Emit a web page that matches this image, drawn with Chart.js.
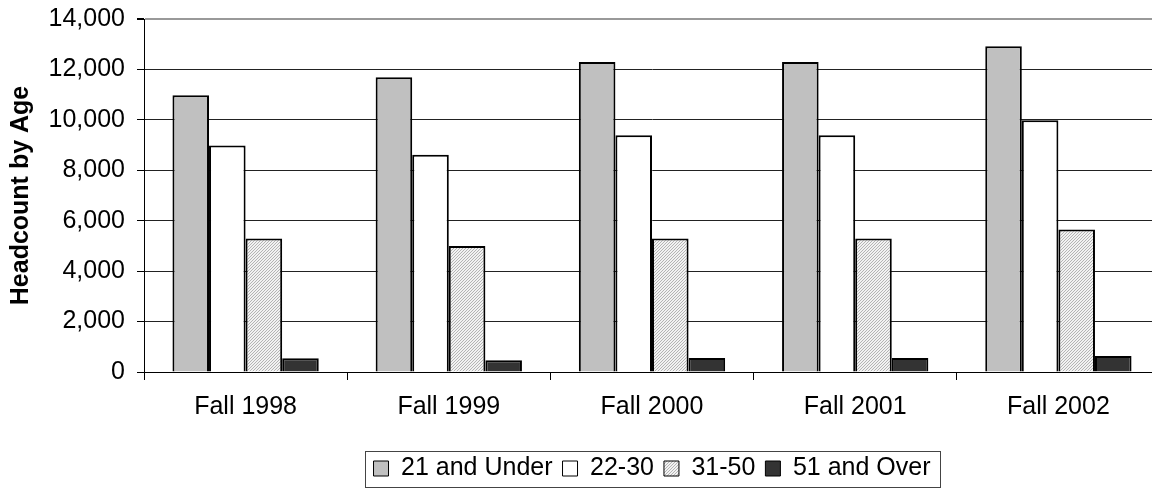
<!DOCTYPE html>
<html><head><meta charset="utf-8">
<script src="https://cdn.jsdelivr.net/npm/chart.js@4.4.0/dist/chart.umd.min.js"></script>
<style>html,body{margin:0;padding:0;background:#fff;overflow:hidden}canvas{display:block}</style>
</head><body>
<canvas id="c" width="1162" height="491"></canvas>
<script>
const categories = ['Fall 1998', 'Fall 1999', 'Fall 2000', 'Fall 2001', 'Fall 2002'];
const seriesNames = ['21 and Under', '22-30', '31-50', '51 and Over'];
const age21AndUnder = [10980, 11690, 12290, 12290, 12920];
const age22to30 = [8980, 8620, 9390, 9390, 9980];
const age31to50 = [5290, 5000, 5290, 5290, 5650];
const age51AndOver = [550, 465, 560, 560, 636];
const yMin = 0, yMax = 14000, yStep = 2000;

function hatch() {
  const t = document.createElement('canvas');
  t.width = 3; t.height = 3;
  const g = t.getContext('2d');
  g.fillStyle = '#f2f2f2'; g.fillRect(0, 0, 3, 3);
  g.fillStyle = '#b4b4b4';
  for (let i = 0; i < 3; i++) g.fillRect(2 - i, i, 1, 1);
  return g.createPattern(t, 'repeat');
}
const hatchPattern = hatch();

const FONT = '"Liberation Sans", Arial, sans-serif';
Chart.defaults.font.family = FONT;
Chart.defaults.font.size = 25;
Chart.defaults.color = '#000';

const legendBox = {
  id: 'legendBox',
  afterDraw(chart) {
    const hb = chart.legend.legendHitBoxes;
    if (!hb || !hb.length) return;
    let l = Infinity, r = -Infinity;
    hb.forEach(b => { l = Math.min(l, b.left); r = Math.max(r, b.left + b.width); });
    const cy = hb[0].top + hb[0].height / 2;
    const ctx = chart.ctx;
    ctx.save();
    ctx.strokeStyle = '#444';
    ctx.lineWidth = 1;
    ctx.strokeRect(Math.round(l - 9) + 0.5, Math.round(cy - 18) + 0.5, Math.round(r - l + 18), 36);
    ctx.restore();
  }
};

const mk = (label, data, bg) => ({
  label, data, backgroundColor: bg, borderColor: '#000', borderWidth: 2,
  categoryPercentage: 0.72, barPercentage: 1
});

new Chart(document.getElementById('c'), {
  type: 'bar',
  data: {
    labels: categories,
    datasets: [
      mk(seriesNames[0], age21AndUnder, '#c0c0c0'),
      mk(seriesNames[1], age22to30, '#ffffff'),
      mk(seriesNames[2], age31to50, hatchPattern),
      mk(seriesNames[3], age51AndOver, '#333333')
    ]
  },
  options: {
    responsive: false,
    animation: false,
    layout: { padding: { top: 0, right: 2, bottom: 0, left: 0 } },
    plugins: {
      tooltip: { enabled: false },
      legend: {
        position: 'bottom',
        fullSize: false,
        labels: {
          boxWidth: 15, boxHeight: 15, padding: 10,
          font: { size: 25, family: FONT }, color: '#000',
          generateLabels(chart) {
            return chart.data.datasets.map((d, i) => ({
              text: d.label, fillStyle: d.backgroundColor, strokeStyle: '#000',
              lineWidth: 1, hidden: false, datasetIndex: i
            }));
          }
        }
      }
    },
    scales: {
      x: {
        afterFit(s) { s.height = 74; },
        grid: { display: true, drawOnChartArea: false, drawTicks: true, tickLength: 8, offset: true, color: '#000' },
        border: { color: '#000', width: 1 },
        ticks: { padding: 12, font: { size: 25, family: FONT }, color: '#000', maxRotation: 0 }
      },
      y: {
        min: yMin, max: yMax,
        afterFit(s) { s.width = 144; s.paddingTop = 19; },
        ticks: {
          stepSize: yStep, padding: 12, font: { size: 25, family: FONT, lineHeight: 1 }, color: '#000',
          callback: v => Number(v).toLocaleString('en-US')
        },
        grid: {
          color: c => (c.tick && c.tick.value === yMax) ? '#999' : '#222',
          lineWidth: c => (c.tick && c.tick.value === yMax) ? 2 : 1,
          tickColor: '#000', tickLength: 7, drawTicks: true
        },
        border: { color: '#000', width: 1 },
        title: {
          display: true, text: 'Headcount by Age', color: '#000',
          font: { size: 25, weight: 'bold', family: FONT },
          padding: { top: 6, bottom: 0 }
        }
      }
    }
  },
  plugins: [legendBox]
});
</script>
</body></html>
